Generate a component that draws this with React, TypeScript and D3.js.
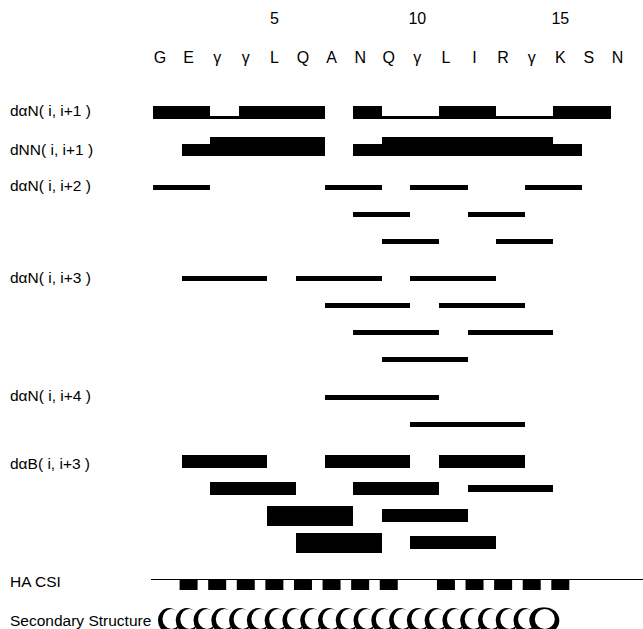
import React from "react";
import * as d3 from "d3";

// Peptide sequence (γ = Gla) and residue numbering ticks
const residues = ["G", "E", "γ", "γ", "L", "Q", "A", "N", "Q", "γ", "L", "I", "R", "γ", "K", "S", "N"];
const numberTicks = [5, 10, 15];

// Sequential NOEs, one entry per residue i (connection i -> i+1): s / m / w / "" (none)
const dANi1 = ["m", "m", "w", "m", "m", "m", "", "m", "w", "w", "m", "m", "w", "w", "m", "m"];
const dNNi1 = ["", "m", "s", "s", "s", "s", "", "m", "s", "s", "s", "s", "s", "s", "m", ""];

// Medium-range NOEs as [i, j] pairs, stacked in sub-rows
const dANi2 = [
  [[1, 3], [7, 9], [10, 12], [14, 16]],
  [[8, 10], [12, 14]],
  [[9, 11], [13, 15]],
];
const dANi3 = [
  [[2, 5], [6, 9], [10, 13]],
  [[7, 10], [11, 14]],
  [[8, 11], [12, 15]],
  [[9, 12]],
];
const dANi4 = [
  [[7, 11]],
  [[10, 14]],
];
// dαβ(i, i+3) with intensity class
const dABi3 = [
  [[2, 5, "m"], [7, 10, "m"], [11, 14, "m"]],
  [[3, 6, "m"], [8, 11, "m"], [12, 15, "w"]],
  [[5, 8, "s"], [9, 12, "m"]],
  [[6, 9, "s"], [10, 13, "m"]],
];

// Hα chemical shift index per residue
const haCsi = [0, -1, -1, -1, -1, -1, -1, -1, -1, 0, -1, -1, -1, -1, -1, 0, 0];
// Helix span (residues)
const helixSpan = [1, 15];

const rowLabels = ["dαN( i, i+1 )", "dNN( i, i+1 )", "dαN( i, i+2 )", "dαN( i, i+3 )", "dαN( i, i+4 )", "dαB( i, i+3 )"];

const W = 643;
const H = 629;
const FONT = "'Liberation Sans', Arial, Helvetica, sans-serif";
const FS = 16;
const LFS = 15.5;

// group consecutive connections of the same class into runs
function runs(arr: string[]) {
  const out: { from: number; to: number; c: string }[] = [];
  arr.forEach((c, i) => {
    if (!c) return;
    const last = out[out.length - 1];
    if (last && last.c === c && last.to === i + 1) last.to = i + 2;
    else out.push({ from: i + 1, to: i + 2, c });
  });
  return out;
}

export default function App() {
  // connectivity boundaries; residue glyphs sit slightly right of them
  const x = d3.scaleLinear().domain([1, 17]).range([153, 610.5]);
  const glyphOff = 7;

  // vertical layout: groups of sub-rows
  const groups = [1, 1, dANi2.length, dANi3.length, dANi4.length, dABi3.length];
  const subStep = 27;
  const groupGap = 37.5;
  const groupY: number[] = [];
  let yy = 112;
  groups.forEach((n) => {
    groupY.push(yy);
    yy += (n - 1) * subStep + groupGap;
  });
  const rowY = (g: number, k: number) => groupY[g] + k * subStep;

  const seqH: Record<string, number> = { s: 19.5, m: 12.5, w: 2.5 };
  const abH: Record<string, number> = { s: 20, m: 12.5, w: 7 };
  const medH = 5;

  const bars: React.ReactElement[] = [];

  // sequential rows, bottom aligned
  [dANi1, dNNi1].forEach((arr, g) => {
    const base = rowY(g, 0) + 6.5;
    runs(arr).forEach((r, i) => {
      const h = seqH[r.c];
      bars.push(
        <rect key={`s${g}-${i}`} x={x(r.from)} y={base - h} width={x(r.to) - x(r.from)} height={h} fill="#000" />
      );
    });
  });

  // medium-range rows
  [dANi2, dANi3, dANi4].forEach((rows, gi) => {
    const g = gi + 2;
    rows.forEach((row, k) => {
      const cy = rowY(g, k);
      row.forEach(([a, b], j) => {
        bars.push(
          <rect key={`m${g}-${k}-${j}`} x={x(a)} y={cy - medH / 2} width={x(b) - x(a)} height={medH} fill="#000" />
        );
      });
    });
  });

  // dαβ rows
  dABi3.forEach((row, k) => {
    const cy = rowY(5, k);
    row.forEach(([a, b, c], j) => {
      const h = abH[c as string];
      bars.push(
        <rect key={`ab-${k}-${j}`} x={x(a as number)} y={cy - h / 2} width={x(b as number) - x(a as number)} height={h} fill="#000" />
      );
    });
  });

  // CSI
  const csiY = 579.5;
  const csiSq = { w: 18, h: 10.5 };

  // helix coils
  const hx0 = x(helixSpan[0]) + 5;
  const hx1 = x(helixSpan[1]) + glyphOff - 2;
  const hy = 620;
  const rx = 11;
  const ry = 12.5;
  const nCoils = 22;
  const lastRx = 13;
  const firstC = hx0 + rx;
  const lastC = hx1 - lastRx - 3;
  const coilStep = (lastC - firstC) / (nCoils - 1);
  const coils = d3.range(nCoils).map((i) => firstC + i * coilStep);

  return (
    <svg width={W} height={H} style={{ position: "absolute", left: 0, top: 0, background: "#fff" }} fontFamily={FONT}>
      <rect width={W} height={H} fill="#fff" />
      {/* residue numbers */}
      {numberTicks.map((n) => (
        <text key={`n${n}`} x={x(n) + glyphOff} y={24} fontSize={FS} textAnchor="middle" fill="#000">
          {n}
        </text>
      ))}
      {/* sequence */}
      {residues.map((r, i) => (
        <text key={`r${i}`} x={x(i + 1) + glyphOff} y={63} fontSize={FS} textAnchor="middle" fill="#000">
          {r}
        </text>
      ))}
      {/* row labels */}
      {rowLabels.map((l, g) => (
        <text key={`l${g}`} x={10} y={rowY(g, 0) + (g === 5 ? 3 : g === 1 ? 1 : 0)} fontSize={LFS} dominantBaseline="middle" fill="#000">
          {l}
        </text>
      ))}
      <g shapeRendering="crispEdges">{bars}</g>
      {/* HA CSI */}
      <text x={10} y={583} fontSize={LFS} dominantBaseline="middle" fill="#000">HA CSI</text>
      <line x1={151} x2={W} y1={csiY} y2={csiY} stroke="#000" strokeWidth={1.2} />
      {haCsi.map((v, i) =>
        v < 0 ? (
          <rect key={`c${i}`} x={x(i + 1) + glyphOff - csiSq.w / 2} y={csiY} width={csiSq.w} height={csiSq.h} fill="#000" />
        ) : null
      )}
      {/* Secondary structure */}
      <text x={10} y={622} fontSize={LFS} dominantBaseline="middle" fill="#000">Secondary Structure</text>
      <g>
        {coils.map((cx, i) => {
          const last = i === nCoils - 1;
          if (last) {
            return (
              <g key={`h${i}`}>
                <ellipse cx={cx + 3} cy={hy + 0.5} rx={lastRx + 1} ry={ry + 0.5} fill="#000" />
                <ellipse cx={cx} cy={hy} rx={lastRx} ry={ry} fill="#000" />
                <ellipse cx={cx + 2.5} cy={hy - 1} rx={lastRx - 3} ry={ry - 2.5} fill="#fff" />
              </g>
            );
          }
          return (
            <g key={`h${i}`}>
              <ellipse cx={cx} cy={hy + 0.5} rx={rx} ry={ry} fill="#000" />
              <ellipse cx={cx + 2.5} cy={hy - 1} rx={rx - 2} ry={ry - 2.5} fill="#fff" />
            </g>
          );
        })}
      </g>
    </svg>
  );
}
